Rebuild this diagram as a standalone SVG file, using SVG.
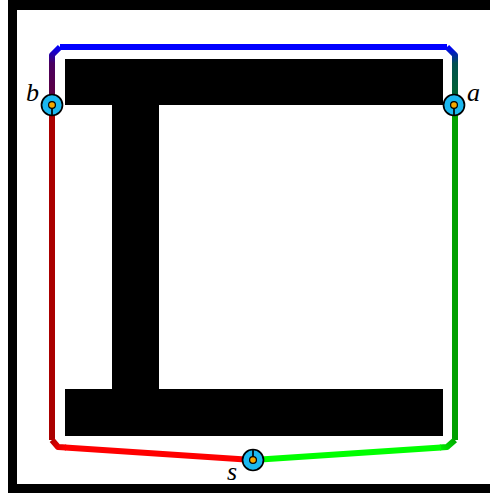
<svg xmlns="http://www.w3.org/2000/svg" width="490" height="493" viewBox="0 0 490 493">
<style>
.seg{fill:none;stroke-width:6;stroke-linecap:butt;stroke-linejoin:round}
.outer{fill:#1cb8f0;stroke:#000;stroke-width:1.7}
.inner{fill:#f5a800;stroke:#000;stroke-width:1.2}
.tick{stroke:#000;stroke-width:1.7}
.lbl{font-family:"Liberation Serif",serif;font-style:italic;font-size:26px;fill:#000}
</style>
<defs>
<linearGradient id="gTL" gradientUnits="userSpaceOnUse" x1="52" y1="105" x2="62" y2="47">
<stop offset="0" stop-color="#620038"/><stop offset="0.7" stop-color="#4a0060"/><stop offset="1" stop-color="#0000ff"/>
</linearGradient>
<linearGradient id="gTR" gradientUnits="userSpaceOnUse" x1="455" y1="105" x2="446" y2="47">
<stop offset="0" stop-color="#006a28"/><stop offset="0.7" stop-color="#005050"/><stop offset="1" stop-color="#0000ff"/>
</linearGradient>
<linearGradient id="gBL" gradientUnits="userSpaceOnUse" x1="52" y1="436" x2="64" y2="449">
<stop offset="0" stop-color="#aa0000"/><stop offset="1" stop-color="#ff0000"/>
</linearGradient>
<linearGradient id="gBR" gradientUnits="userSpaceOnUse" x1="440" y1="449" x2="455" y2="436">
<stop offset="0" stop-color="#00f000"/><stop offset="1" stop-color="#00a000"/>
</linearGradient>
</defs>
<rect x="0" y="0" width="490" height="493" fill="#fff"/>
<g id="frame">
<rect x="8" y="0" width="482" height="10" fill="#000"/>
<rect x="8" y="0" width="9" height="493" fill="#000"/>
<rect x="8" y="484" width="482" height="9" fill="#000"/>
</g>
<g id="beam" fill="#000">
<rect x="65" y="59" width="378" height="46"/>
<rect x="112" y="104" width="47" height="286"/>
<rect x="65" y="389" width="378" height="47"/>
</g>
<g id="connectors">
<path class="seg" stroke="url(#gTL)" d="M52,105 L52,55 L60,47"/>
<path class="seg" stroke="#0000ff" d="M60,47 L447,47"/>
<path class="seg" stroke="url(#gTR)" d="M455,105 L455,55 L447,47"/>
<path class="seg" stroke="#aa0000" d="M52,105 L52,440"/>
<path class="seg" stroke="url(#gBL)" d="M52,440 L58,447 L66,447.5"/>
<path class="seg" stroke="#ff0000" d="M65,447.5 L253,460"/>
<path class="seg" stroke="#00a000" d="M455,105 L455,440"/>
<path class="seg" stroke="url(#gBR)" d="M455,440 L447,447 L440,447.5"/>
<path class="seg" stroke="#00ff00" d="M441,447.5 L253,460"/>
</g>
<g id="node-b">
<circle class="outer" cx="52" cy="105" r="10.5"/>
<line class="tick" x1="52" y1="108" x2="52" y2="115.5"/>
<circle class="inner" cx="52" cy="105" r="3.4"/>
<text class="lbl" x="26" y="101">b</text>
</g>
<g id="node-a">
<circle class="outer" cx="454" cy="105" r="10.5"/>
<line class="tick" x1="454" y1="108" x2="454" y2="115.5"/>
<circle class="inner" cx="454" cy="105" r="3.4"/>
<text class="lbl" x="467" y="101">a</text>
</g>
<g id="node-s">
<circle class="outer" cx="253" cy="460" r="10.5"/>
<line class="tick" x1="253" y1="449.5" x2="253" y2="457"/>
<circle class="inner" cx="253" cy="460" r="3.4"/>
<text class="lbl" x="227" y="480">s</text>
</g>
</svg>
